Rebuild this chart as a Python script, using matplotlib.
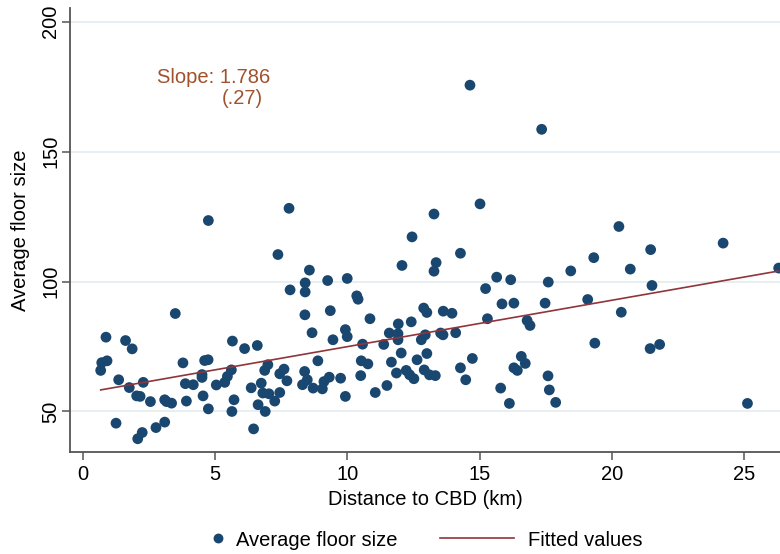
import matplotlib
matplotlib.use("Agg")
import matplotlib.pyplot as plt
from matplotlib.lines import Line2D
import numpy as np

plt.rcParams['font.family'] = ['Liberation Sans', 'DejaVu Sans']

# Distance to CBD (km)
dist = [4.74, 3.49, 0.87, 1.61, 1.86, 0.71, 0.91, 0.67, 1.35, 1.75, 2.28, 2.03, 2.16, 2.55,
        3.09, 3.16, 3.35, 3.91, 3.78, 3.87, 4.17, 4.50, 4.50, 4.54, 4.60, 4.73, 4.74, 1.25,
        2.07, 2.24, 2.76, 3.09,
        7.79, 7.37, 8.56, 8.40, 8.40, 7.83, 9.25, 9.99, 8.39, 9.35, 8.66, 9.92, 9.99, 9.45,
        5.65, 6.11, 6.59, 8.88, 5.61, 5.46, 5.36, 5.04, 6.99, 6.87, 7.60, 7.44, 7.71, 8.38,
        8.48, 8.30, 8.70, 9.05, 9.11, 9.31, 9.74, 9.92, 6.36, 6.74, 6.80, 7.03, 7.44, 7.25,
        6.62, 6.89, 5.71, 5.63, 6.45,
        15.01, 13.27, 12.44, 14.27, 13.35, 13.27, 12.06, 15.22, 10.35, 10.40, 12.88, 13.00,
        13.62, 13.95, 10.85, 12.41, 11.92, 11.58, 11.91, 11.91, 12.94, 12.79, 13.52, 13.61,
        14.09, 15.29, 10.57, 11.37, 12.03, 13.00, 10.52, 10.77, 11.66, 12.63, 14.72, 14.27,
        14.47, 10.50, 11.85, 12.22, 12.35, 12.51, 12.90, 13.10, 13.32, 11.49, 11.05,
        20.26, 19.31, 18.44, 20.69, 15.64, 16.17, 17.59, 15.84, 16.29, 17.47, 19.08, 20.35,
        16.79, 16.90, 19.35, 16.57, 16.72, 16.29, 16.42, 17.58, 17.63, 17.87, 15.79, 16.12,
        21.46, 24.20, 21.51, 26.30, 21.44, 21.80, 25.12,
        14.63, 17.34]

# Average floor size
floor = [123.5, 87.7, 78.6, 77.3, 74.1, 68.8, 69.5, 65.8, 62.2, 59.2, 61.2, 56.0, 55.8, 53.8,
         54.5, 53.8, 53.2, 54.0, 68.7, 60.7, 60.3, 63.1, 64.2, 56.0, 69.6, 69.9, 51.0, 45.5,
         39.5, 41.9, 43.8, 45.9,
         128.2, 110.4, 104.4, 99.5, 96.0, 96.8, 100.4, 101.2, 87.2, 88.8, 80.3, 81.5, 78.8, 77.6,
         77.1, 74.2, 75.4, 69.5, 66.0, 63.5, 61.2, 60.2, 68.0, 65.8, 66.3, 64.5, 61.8, 65.4,
         62.2, 60.3, 59.0, 58.7, 61.5, 63.2, 62.8, 55.8, 59.1, 60.9, 57.1, 56.8, 57.3, 54.0,
         52.6, 50.0, 54.5, 50.0, 43.3,
         129.9, 126.0, 117.2, 110.9, 107.3, 104.0, 106.2, 97.3, 94.5, 93.2, 89.8, 88.1,
         88.6, 87.8, 85.7, 84.5, 83.7, 80.2, 79.9, 77.6, 79.5, 77.6, 80.2, 79.5,
         80.3, 85.7, 75.9, 75.8, 72.5, 72.3, 69.5, 68.3, 69.0, 69.9, 70.4, 66.8,
         62.2, 63.8, 64.8, 65.8, 64.1, 62.6, 66.0, 64.1, 63.8, 60.0, 57.3,
         121.2, 109.2, 104.1, 104.8, 101.7, 100.7, 99.8, 91.4, 91.7, 91.7, 93.1, 88.2,
         85.0, 83.1, 76.3, 71.2, 68.5, 66.8, 65.8, 63.7, 58.3, 53.5, 59.0, 53.1,
         112.3, 114.8, 98.5, 105.2, 74.2, 75.8, 53.1,
         175.6, 158.6]

slope = 1.786
slope_se = 0.27
intercept = 57.1

x_ticks = [0, 5, 10, 15, 20, 25]
y_ticks = [50, 100, 150, 200]

navy = '#1a476f'
maroon = '#90353b'
sienna = '#a0522d'
axis_col = '#555555'

fig = plt.figure(figsize=(7.8, 5.54), dpi=100)
ax = fig.add_axes([70/780, 1 - 452/554, 710/780, 444/554])

ax.set_xlim(-0.49, 26.35)
ax.set_ylim(34.4, 205.3)

ax.set_yticks(y_ticks)
ax.set_xticks(x_ticks)
ax.yaxis.grid(True, color='#e6eef1', linewidth=1.3, zorder=0)
ax.set_axisbelow(True)

sc = ax.scatter(dist, floor, s=60, color=navy, edgecolors='none', zorder=3)

xd = np.array([min(dist), max(dist)])
ax.plot(xd, intercept + slope * xd, color=maroon, linewidth=1.2, zorder=4)

ax.text(2.8, 178.7, f"Slope: {slope:.3f}", color=sienna, fontsize=14.5, va='center', ha='left')
ax.text(5.26, 170.6, f"({str(slope_se).lstrip('0')})", color=sienna, fontsize=14.5,
        va='center', ha='left')

for s in ['top', 'right']:
    ax.spines[s].set_visible(False)
for s in ['left', 'bottom']:
    ax.spines[s].set_color(axis_col)
    ax.spines[s].set_linewidth(1.3)

ax.tick_params(axis='both', colors=axis_col, length=6, width=1.1, labelsize=14.5,
               labelcolor='black')
ax.tick_params(axis='y', pad=1)
for lab in ax.get_yticklabels():
    lab.set_rotation(90)
    lab.set_va('center')

ax.set_xlabel("Distance to CBD (km)", fontsize=14.5, labelpad=4)
ax.set_ylabel("Average floor size", fontsize=14.5, labelpad=8)

h1 = Line2D([], [], marker='o', linestyle='none', color=navy, markersize=7.6)
h2 = Line2D([], [], color=maroon, linewidth=1.2)
leg1 = fig.legend([h1], ["Average floor size"], loc='center left',
                  bbox_to_anchor=(208/780, 1 - 540/554), frameon=False, fontsize=14.5,
                  handlelength=1.0, handletextpad=0.4, borderpad=0, borderaxespad=0,
                  markerscale=0.8)
leg2 = fig.legend([h2], ["Fitted values"], loc='center left',
                  bbox_to_anchor=(440/780, 1 - 540/554), frameon=False, fontsize=14.5,
                  handlelength=3.69, handletextpad=0.68, borderpad=0, borderaxespad=0)

fig.savefig("out.png", dpi=100)
